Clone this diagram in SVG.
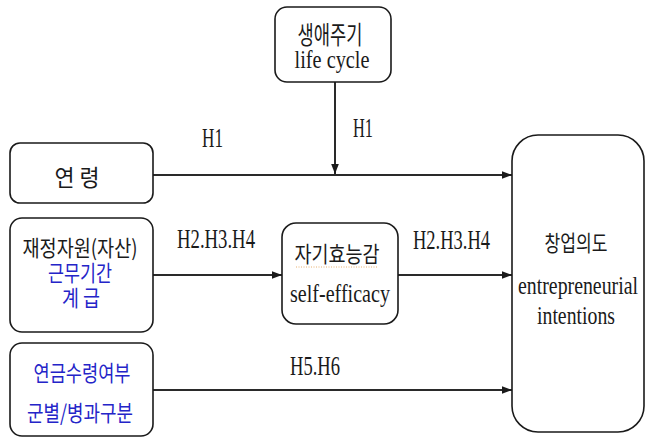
<svg xmlns="http://www.w3.org/2000/svg" width="645" height="438" viewBox="0 0 645 438">
<style>
.box{fill:#fff;stroke:#1a1a1a;stroke-width:1.6}
.ln{stroke:#2a2a2a;stroke-width:2;fill:none}
.kr{font-family:"Noto Sans CJK KR","Noto Sans",sans-serif;fill:#1a1a1a;text-anchor:middle}
.blue{fill:#2424c8}
.en{font-family:"Liberation Serif","Noto Sans CJK KR",serif;fill:#1a1a1a}
.mid{text-anchor:middle}
</style>
<defs>
<marker id="ah" viewBox="0 0 10 10" refX="10" refY="5" markerWidth="10" markerHeight="10" markerUnits="userSpaceOnUse" orient="auto">
<path d="M0,1.2 L10,5 L0,8.8 z" fill="#1a1a1a"/>
</marker>
</defs>
<rect width="645" height="438" fill="#fff"/>
<g id="connectors">
<line class="ln" x1="335" y1="82" x2="335" y2="174" marker-end="url(#ah)"/>
<line class="ln" x1="153" y1="175" x2="512" y2="175" marker-end="url(#ah)"/>
<line class="ln" x1="153" y1="275" x2="282" y2="275" marker-end="url(#ah)"/>
<line class="ln" x1="398" y1="275" x2="512" y2="275" marker-end="url(#ah)"/>
<line class="ln" x1="153" y1="390" x2="512" y2="390" marker-end="url(#ah)"/>
<text class="en" x="202" y="147" font-size="28" textLength="21" lengthAdjust="spacingAndGlyphs">H1</text>
<text class="en" x="353" y="137" font-size="28" textLength="20" lengthAdjust="spacingAndGlyphs">H1</text>
<text class="en" x="177" y="248" font-size="28" textLength="78" lengthAdjust="spacingAndGlyphs">H2.H3.H4</text>
<text class="en" x="413" y="249" font-size="28" textLength="77" lengthAdjust="spacingAndGlyphs">H2.H3.H4</text>
<text class="en" x="290" y="375" font-size="28" textLength="50" lengthAdjust="spacingAndGlyphs">H5.H6</text>
</g>
<g id="lifecycle">
<rect class="box" x="275" y="7" width="116" height="75" rx="12"/>
<text class="kr" x="330" y="44" font-size="25" textLength="65" lengthAdjust="spacingAndGlyphs">생애주기</text>
<text class="en mid" x="332" y="68" font-size="26" textLength="75" lengthAdjust="spacingAndGlyphs">life cycle</text>
</g>
<g id="age">
<rect class="box" x="10" y="143" width="143" height="60" rx="10"/>
<text class="kr" x="77" y="186" font-size="23" textLength="45" lengthAdjust="spacingAndGlyphs">연 령</text>
</g>
<g id="finance">
<rect class="box" x="10" y="218" width="143" height="114" rx="12"/>
<text class="kr" x="80" y="256" font-size="22" textLength="115" lengthAdjust="spacingAndGlyphs">재정자원(자산)</text>
<text class="kr blue" x="80" y="281" font-size="22" textLength="64" lengthAdjust="spacingAndGlyphs">근무기간</text>
<text class="kr blue" x="81" y="306" font-size="22" textLength="38" lengthAdjust="spacingAndGlyphs">계 급</text>
</g>
<g id="pension">
<rect class="box" x="10" y="343" width="143" height="93" rx="12"/>
<text class="kr blue" x="82" y="381" font-size="22" textLength="97" lengthAdjust="spacingAndGlyphs">연금수령여부</text>
<text class="kr blue" x="80" y="421" font-size="22" textLength="106" lengthAdjust="spacingAndGlyphs">군별/병과구분</text>
</g>
<g id="selfefficacy">
<rect class="box" x="282" y="223" width="116" height="101" rx="14"/>
<text class="kr" x="337" y="262" font-size="22" textLength="85" lengthAdjust="spacingAndGlyphs">자기효능감</text>
<line x1="296" y1="267" x2="378" y2="267" stroke="#e8b070" stroke-width="1" stroke-dasharray="1,1.5"/>
<text class="en mid" x="340" y="302" font-size="26" textLength="100" lengthAdjust="spacingAndGlyphs">self-efficacy</text>
</g>
<g id="intention">
<rect class="box" x="512" y="135" width="132" height="297" rx="26"/>
<text class="kr" x="576" y="251" font-size="22" textLength="63" lengthAdjust="spacingAndGlyphs">창업의도</text>
<text class="en mid" x="578" y="294" font-size="26" textLength="120" lengthAdjust="spacingAndGlyphs">entrepreneurial</text>
<text class="en mid" x="576" y="324" font-size="26" textLength="78" lengthAdjust="spacingAndGlyphs">intentions</text>
</g>
</svg>
